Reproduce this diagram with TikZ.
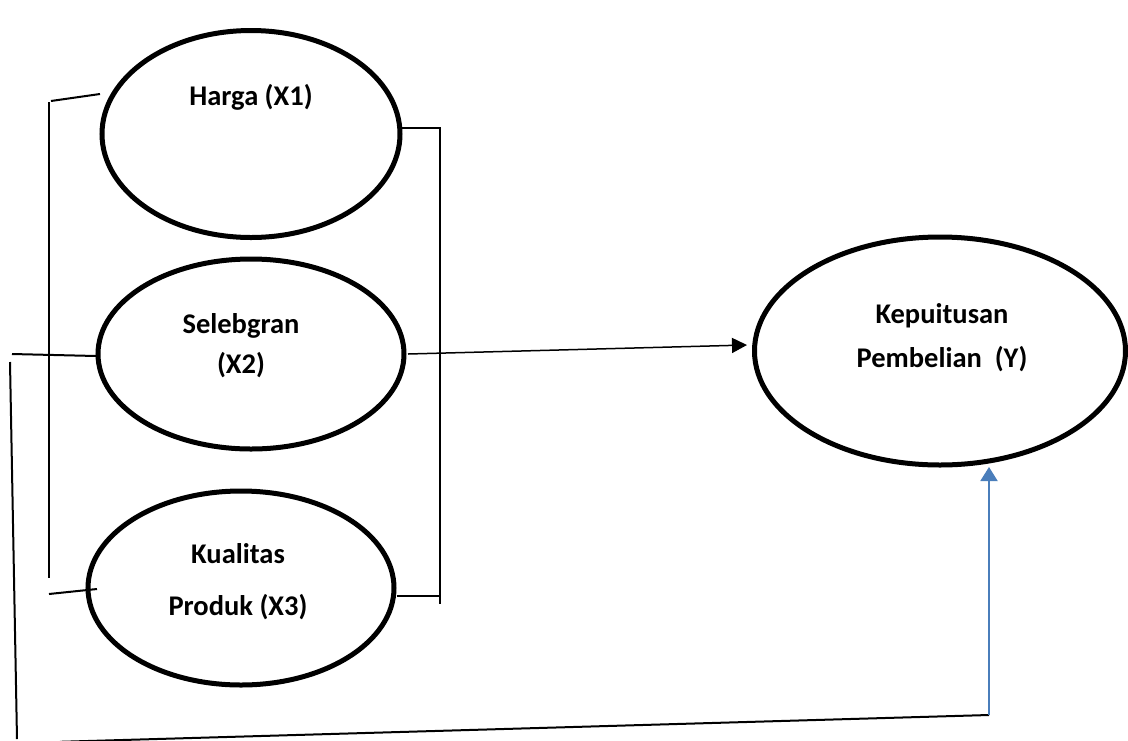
\documentclass[tikz,border=0pt]{standalone}
\usepackage{fontspec}
\setmainfont{Carlito}
\usetikzlibrary{arrows.meta,shapes.geometric}
\begin{document}
\begin{tikzpicture}[x=1pt,y=-1pt,
  var/.style={draw, ellipse, line width=5pt, inner sep=0pt},
  lbl/.style={font=\fontsize{28.5}{34}\selectfont\bfseries, inner sep=0pt, anchor=base},
  ln/.style={line width=2pt},
  arr/.style={line width=1.5pt, -{Triangle[length=15pt,width=15pt]}},
  barr/.style={line width=1.9pt, draw={rgb,255:red,74;green,126;blue,187}, -{Triangle[length=14pt,width=17pt]}}]
\useasboundingbox (0,0) rectangle (1128,740);
\clip (0,0) rectangle (1128,740);
% ellipses
\node[var, minimum width=298pt, minimum height=207pt] (x1) at (251,134) {};
\node[var, minimum width=306pt, minimum height=190pt] (x2) at (251,354) {};
\node[var, minimum width=306pt, minimum height=194pt] (x3) at (241,588) {};
\node[var, minimum width=371pt, minimum height=228pt] (y) at (940,351) {};
% labels
\node[lbl] (t1) at (251,105) {Harga (X1)};
\node[lbl] (t2a) at (241,333) {Selebgran};
\node[lbl] (t2b) at (241,373) {(X2)};
\node[lbl] (t3a) at (238,563) {Kualitas};
\node[lbl] (t3b) at (238,615) {Produk (X3)};
\node[lbl] (ta) at (942,323) {Kepuitusan};
\node[lbl] (tb) at (942,367) {Pembelian\ \ (Y)};
% coordinates
\coordinate (l1a) at (51,101);
\coordinate (l1b) at (100,94);
\coordinate (lva) at (49,102);
\coordinate (lvb) at (49,578);
\coordinate (l3a) at (49,594);
\coordinate (l3b) at (97,589);
\coordinate (m1) at (12,354);
\coordinate (m2) at (96,356);
\coordinate (fa) at (10,362);
\coordinate (fb) at (17,739);
\coordinate (r1a) at (400,128);
\coordinate (r1b) at (440,128);
\coordinate (r3a) at (397,596);
\coordinate (r3b) at (440,596);
\coordinate (rvb) at (440,604);
\coordinate (s0) at (408,354);
\coordinate (s1) at (747,345);
\coordinate (bl) at (60,741.8);
\coordinate (br) at (989,715);
\coordinate (bt) at (989,467);
% lines
\draw[ln] (l1a) -- (l1b);
\draw[ln] (lva) -- (lvb);
\draw[ln] (l3a) -- (l3b);
\draw[ln] (m1) -- (m2);
\draw[ln] (fa) -- (fb);
\draw[ln] (r1a) -- (r1b) -- (rvb);
\draw[ln] (r3a) -- (r3b);
\draw[arr] (s0) -- (s1);
\draw[ln] (bl) -- (br);
\draw[barr] (br) -- (bt);
\end{tikzpicture}
\end{document}
